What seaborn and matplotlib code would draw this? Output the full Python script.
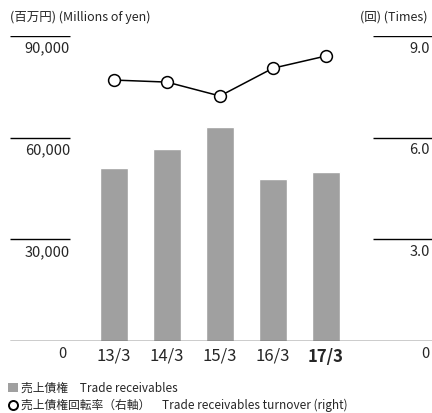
import numpy as np
import pandas as pd
import matplotlib.pyplot as plt
import seaborn as sns
from matplotlib.lines import Line2D
from matplotlib.patches import Patch

# データ
years = ['13/3', '14/3', '15/3', '16/3', '17/3']
receivables = [51000, 56700, 63200, 47800, 49900]   # 百万円
turnover = [7.70, 7.64, 7.23, 8.05, 8.41]           # 回
left_ticks = [0, 30000, 60000, 90000]
left_labels = ['0', '30,000', '60,000', '90,000']
right_ticks = [0, 3, 6, 9]
right_labels = ['0', '3.0', '6.0', '9.0']

sns.set_style('white')
plt.rcParams['font.family'] = ['Noto Sans CJK JP', 'DejaVu Sans']

fig = plt.figure(figsize=(4.32, 4.13), dpi=100)
ax = fig.add_axes([10 / 432, 1 - 341 / 413, 422 / 432, 305 / 413])

df = pd.DataFrame({'year': years, 'value': receivables})
sns.barplot(data=df, x='year', y='value', color='#a0a0a0', saturation=1,
            width=0.52, ax=ax)
ax.set_xlim(-1.96, 6.0)
ax.set_ylim(0, 90000)

ax2 = ax.twinx()
ax2.plot(np.arange(len(years)), turnover, color='black', lw=1.1, marker='o',
         ms=8.5, mfc='white', mec='black', mew=1.1, zorder=5)
ax2.set_ylim(0, 9)

for a in (ax, ax2):
    for s in a.spines.values():
        s.set_visible(False)
    a.set_yticks([])
    a.set_ylabel('')
ax.set_xlabel('')

# 軸線と目盛り線
ax.axhline(0, color='black', lw=1.0)
ax.hlines(left_ticks[1:], 0, 0.142, transform=ax.get_yaxis_transform(),
          color='black', lw=1.0)
ax.hlines(left_ticks[1:], 0.86, 1, transform=ax.get_yaxis_transform(),
          color='black', lw=1.0)

for v, lab in zip(left_ticks, left_labels):
    ax.annotate(lab, xy=(0.135 if v == 0 else 0.142, v),
                xycoords=ax.get_yaxis_transform(), xytext=(0, -4),
                textcoords='offset points', ha='right', va='top', fontsize=10.5)
for v, lab in zip(right_ticks, right_labels):
    ax2.annotate(lab, xy=(0.995, v), xycoords=ax2.get_yaxis_transform(),
                 xytext=(0, -4), textcoords='offset points', ha='right',
                 va='top', fontsize=10.5)

ax.tick_params(axis='x', length=0, pad=5, labelsize=12)
for t in ax.get_xticklabels():
    if t.get_text() == '17/3':
        t.set_fontweight('bold')

fig.text(10 / 432, 1 - 17 / 413, '(百万円) (Millions of yen)', fontsize=9,
         ha='left', va='center')
fig.text(428 / 432, 1 - 17 / 413, '(回) (Times)', fontsize=9,
         ha='right', va='center')

handles = [Patch(facecolor='#a0a0a0', edgecolor='none'),
           Line2D([], [], ls='none', marker='o', ms=6.5, mfc='white',
                  mec='black', mew=1.4)]
labels = ['売上債権　Trade receivables',
          '売上債権回転率（右軸）　Trade receivables turnover (right)']
fig.legend(handles, labels, loc='lower left', bbox_to_anchor=(0.0, -0.018),
           frameon=False, fontsize=8.5, handlelength=0.8, handleheight=0.8,
           handletextpad=0.3, labelspacing=0.35, borderpad=0.2)

fig.savefig('out.png', dpi=100)
